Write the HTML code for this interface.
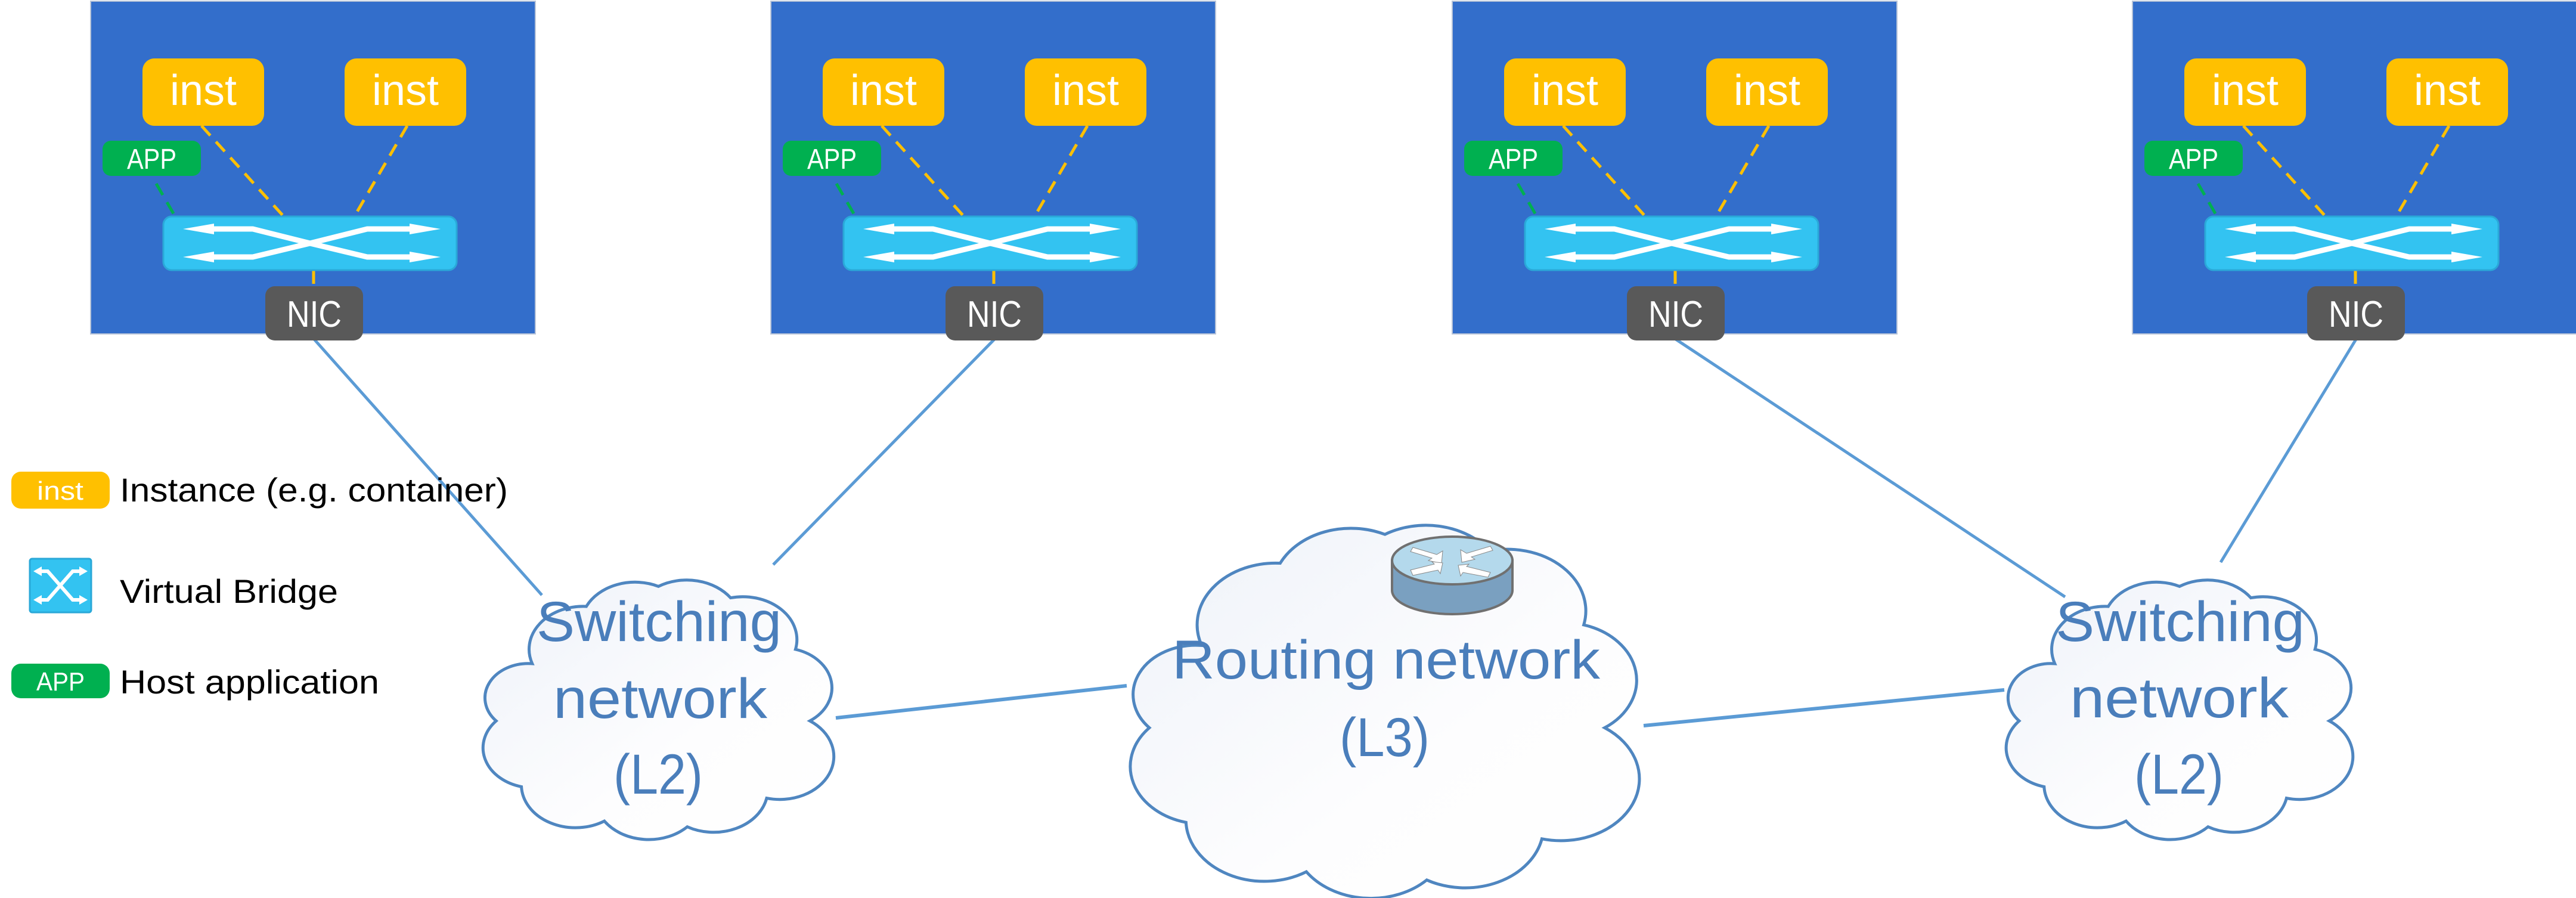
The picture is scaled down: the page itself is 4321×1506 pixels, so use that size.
<!DOCTYPE html>
<html><head><meta charset="utf-8"><style>
html,body{margin:0;padding:0;background:#fff;}
svg{display:block;}
text{font-family:"Liberation Sans",sans-serif;}
</style></head><body>
<svg width="4321" height="1506" viewBox="0 0 4321 1506" xmlns="http://www.w3.org/2000/svg">
<defs>
<linearGradient id="cg" x1="0" y1="0" x2="1" y2="1">
<stop offset="0" stop-color="#eef2f9"/><stop offset="0.6" stop-color="#fdfdfe"/><stop offset="1" stop-color="#ffffff"/>
</linearGradient>
<g id="bridge">
<rect x="0" y="0" width="492" height="90" rx="14" fill="#33c3f1" stroke="#2aa8d8" stroke-width="3"/>
<g stroke="#fff" stroke-width="9" fill="none" stroke-linejoin="round">
<path d="M70,21 H150 L246,45 L342,21 H420"/>
<path d="M70,68 H150 L246,45 L342,68 H420"/>
</g>
<g fill="#fff">
<polygon points="33,21 85,12 85,30"/><polygon points="33,68 85,59 85,77"/>
<polygon points="465,21 413,12 413,30"/><polygon points="465,68 413,59 413,77"/>
</g>
</g>
<g id="host">
<rect x="0" y="0" width="746" height="558" fill="#336ecb" stroke="#b8c4d8" stroke-width="2"/>
<g stroke="#ffc000" stroke-width="5" stroke-dasharray="22,14" fill="none">
<line x1="186" y1="209" x2="323" y2="360"/>
<line x1="531" y1="209" x2="443" y2="360"/>
<line x1="374" y1="452" x2="374" y2="478"/>
</g>
<line x1="110" y1="306" x2="143" y2="363" stroke="#00b050" stroke-width="5" stroke-dasharray="22,14"/>
<rect x="87" y="96" width="204" height="113" rx="20" fill="#ffc000"/>
<text x="133" y="174" font-size="72" fill="#fff" textLength="112" lengthAdjust="spacingAndGlyphs">inst</text>
<rect x="426" y="96" width="204" height="113" rx="20" fill="#ffc000"/>
<text x="472" y="174" font-size="72" fill="#fff" textLength="112" lengthAdjust="spacingAndGlyphs">inst</text>
<rect x="20" y="234" width="165" height="59" rx="14" fill="#00b050"/>
<text x="61" y="281" font-size="48" fill="#fff" textLength="83" lengthAdjust="spacingAndGlyphs">APP</text>
<use href="#bridge" x="122" y="361"/>
<rect x="293" y="478" width="164" height="91" rx="16" fill="#595959"/>
<text x="329" y="546" font-size="62" fill="#fff" textLength="92" lengthAdjust="spacingAndGlyphs">NIC</text>
</g>
<path id="cloud" vector-effect="non-scaling-stroke" d="M15,35 A15,15 0 0 1 30,15 A15,15 0 0 1 50,8 A15,15 0 0 1 70,12 A15,15 0 0 1 88,30 A14,14 0 0 1 92,55 A15,15 0 0 1 80,82 A15,15 0 0 1 58,92 A15,15 0 0 1 35,90 A15,15 0 0 1 12,78 A14,14 0 0 1 5,55 A12,12 0 0 1 15,35 Z"/>
</defs>

<g stroke="#5b9bd5" stroke-width="5" fill="none">
<line x1="527" y1="569" x2="909" y2="998"/>
<line x1="1668" y1="569" x2="1297" y2="947"/>
<line x1="2811" y1="569" x2="3464" y2="1001"/>
<line x1="3952" y1="569" x2="3725" y2="943"/>
<line x1="1402" y1="1204" x2="1890" y2="1150" stroke-width="6"/>
<line x1="2757" y1="1217" x2="3362" y2="1157" stroke-width="6"/>
</g>

<use href="#host" x="152" y="2"/>
<use href="#host" x="1293" y="2"/>
<use href="#host" x="2436" y="2"/>
<use href="#host" x="3577" y="2"/>

<g fill="url(#cg)" stroke="#4f86c0" stroke-width="5">
<use href="#cloud" transform="translate(802,945) scale(6.05,4.8)"/>
<use href="#cloud" transform="translate(1884,841) scale(8.78,6.9)"/>
<use href="#cloud" transform="translate(3357,945) scale(5.98,4.8)"/>
</g>

<g stroke="#707070" stroke-width="4">
<path d="M2335,940 V990 A101,40 0 0 0 2537,990 V940 Z" fill="#7aa0c0"/>
<ellipse cx="2436" cy="940" rx="101" ry="40" fill="#b4d9ec"/>
</g>
<g fill="#fff" stroke="#888" stroke-width="1">
<polygon points="2370,918 2410,930 2420,924 2418,945 2396,940 2402,936 2366,925"/>
<polygon points="2500,916 2460,928 2450,922 2452,943 2474,938 2468,934 2504,923"/>
<polygon points="2366,956 2406,946 2402,942 2420,944 2416,962 2412,956 2370,965"/>
<polygon points="2500,960 2460,950 2464,946 2446,948 2450,966 2454,960 2496,968"/>
</g>

<g fill="#4a7ebb" font-size="95">
<text x="900" y="1075" textLength="411" lengthAdjust="spacingAndGlyphs">Switching</text>
<text x="928" y="1204" textLength="359" lengthAdjust="spacingAndGlyphs">network</text>
<text x="1029" y="1331" textLength="150" lengthAdjust="spacingAndGlyphs">(L2)</text>
<text x="3448" y="1075" textLength="418" lengthAdjust="spacingAndGlyphs">Switching</text>
<text x="3472" y="1203" textLength="367" lengthAdjust="spacingAndGlyphs">network</text>
<text x="3580" y="1331" textLength="150" lengthAdjust="spacingAndGlyphs">(L2)</text>
<text x="1966" y="1138" font-size="92" textLength="718" lengthAdjust="spacingAndGlyphs">Routing network</text>
<text x="2247" y="1268" font-size="92" textLength="151" lengthAdjust="spacingAndGlyphs">(L3)</text>
</g>

<rect x="19" y="791" width="165" height="62" rx="16" fill="#ffc000"/>
<text x="62" y="838" font-size="44" fill="#fff" textLength="78" lengthAdjust="spacingAndGlyphs">inst</text>
<text x="201" y="841" font-size="56" fill="#000" textLength="651" lengthAdjust="spacingAndGlyphs">Instance (e.g. container)</text>
<rect x="50" y="937" width="103" height="90" rx="4" fill="#33c3f1" stroke="#2aa8d8" stroke-width="3"/>
<g stroke="#fff" stroke-width="6" fill="none">
<path d="M62,958 H80 L101,982 L122,958 H140"/>
<path d="M62,1006 H80 L101,982 L122,1006 H140"/>
</g>
<g fill="#fff"><polygon points="56,958 70,950 70,966"/><polygon points="56,1006 70,998 70,1014"/><polygon points="147,958 133,950 133,966"/><polygon points="147,1006 133,998 133,1014"/></g>
<text x="201" y="1011" font-size="56" fill="#000" textLength="366" lengthAdjust="spacingAndGlyphs">Virtual Bridge</text>
<rect x="19" y="1113" width="165" height="58" rx="16" fill="#00b050"/>
<text x="61" y="1158" font-size="44" fill="#fff" textLength="81" lengthAdjust="spacingAndGlyphs">APP</text>
<text x="201" y="1163" font-size="56" fill="#000" textLength="435" lengthAdjust="spacingAndGlyphs">Host application</text>
</svg>
</body></html>
